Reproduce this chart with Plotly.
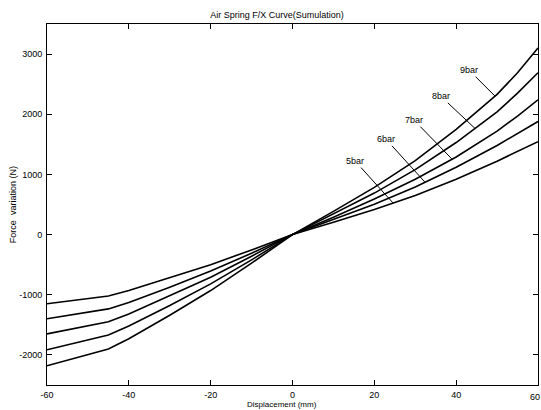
import numpy as np
import plotly.graph_objects as go

displacement = [-60, -45, -40, -30, -20, -10, 0, 10, 20, 30, 40, 50, 55, 60]
force_5bar = [-1150, -1020, -930, -720, -500, -255, 0, 205, 415, 650, 920, 1220, 1380, 1545]
force_6bar = [-1400, -1235, -1130, -875, -605, -310, 0, 250, 505, 790, 1120, 1480, 1680, 1880]
force_7bar = [-1650, -1450, -1320, -1020, -710, -360, 0, 290, 590, 920, 1290, 1720, 1970, 2240]
force_8bar = [-1915, -1670, -1520, -1180, -820, -420, 0, 340, 690, 1080, 1530, 2040, 2350, 2690]
force_9bar = [-2180, -1900, -1730, -1340, -930, -475, 0, 385, 785, 1230, 1750, 2330, 2690, 3100]

series_names = ["5bar", "6bar", "7bar", "8bar", "9bar"]
series = [force_5bar, force_6bar, force_7bar, force_8bar, force_9bar]
label_x = [24.6, 32.4, 39.0, 44.6, 49.5]
label_off = [(-38, -42), (-39, -43), (-38, -39), (-34, -32), (-26, -26)]

x_ticks = [-60, -40, -20, 0, 20, 40, 60]
x_tick_text = ["-60", "-40", "-20", "0", "20", "40", ""]
y_ticks = [-2000, -1000, 0, 1000, 2000, 3000]
y_tick_text = ["-2000", "-1000", "0", "1000", "2000", "3000"]

FONT = "Liberation Sans, Arial, sans-serif"

fig = go.Figure()
for name, ys in zip(series_names, series):
    fig.add_trace(go.Scatter(x=displacement, y=ys, mode="lines", name=name,
                             line=dict(color="black", width=1.6), showlegend=False))

for name, ys, lx, (ax, ay) in zip(series_names, series, label_x, label_off):
    ly = float(np.interp(lx, displacement, ys))
    fig.add_annotation(x=lx, y=ly, text=name, showarrow=True, arrowhead=0,
                       arrowwidth=1, arrowcolor="black", ax=ax, ay=ay,
                       font=dict(family=FONT, size=9, color="black"))

# right-most x tick label (sits at the page edge in the reference)
fig.add_annotation(text="60", x=60, xref="x", y=-0.014, yref="paper",
                   showarrow=False, xanchor="center", yanchor="top", xshift=-3,
                   font=dict(family=FONT, size=9, color="black"))

fig.add_annotation(text="Force  variation (N)", xref="paper", yref="paper",
                   x=-0.07, y=0.5, textangle=-90, showarrow=False,
                   xanchor="center", yanchor="middle",
                   font=dict(family=FONT, size=9, color="black"))
fig.add_annotation(text="Displacement (mm)", xref="paper", yref="paper",
                   x=0.479, y=-0.055, showarrow=False, xanchor="center", yanchor="middle",
                   font=dict(family=FONT, size=8, color="black"))

axis_common = dict(showline=True, linecolor="black", linewidth=1, mirror="ticks",
                   ticks="inside", ticklen=5, tickcolor="black", showgrid=False,
                   zeroline=False, tickfont=dict(family=FONT, size=9, color="black"))

fig.update_layout(
    width=541, height=410,
    margin=dict(l=47, r=3, t=24, b=25),
    paper_bgcolor="white", plot_bgcolor="white",
    title=dict(text="Air Spring F/X Curve(Sumulation)", x=0.512, xanchor="center",
               y=0.963, yanchor="middle",
               font=dict(family=FONT, size=9, color="black")),
    xaxis=dict(range=[-60, 60], tickvals=x_ticks, ticktext=x_tick_text,
               ticklabelstandoff=1, **axis_common),
    yaxis=dict(range=[-2500, 3500], tickvals=y_ticks, ticktext=y_tick_text,
               ticklabelstandoff=2, **axis_common),
)

fig.write_html("out.html", config={"displayModeBar": False})
with open("out.html", "r", encoding="utf-8") as f:
    html = f.read()
html = html.replace("<head>", "<head><style>html,body{margin:0;padding:0;overflow:hidden;}</style>", 1)
with open("out.html", "w", encoding="utf-8") as f:
    f.write(html)
